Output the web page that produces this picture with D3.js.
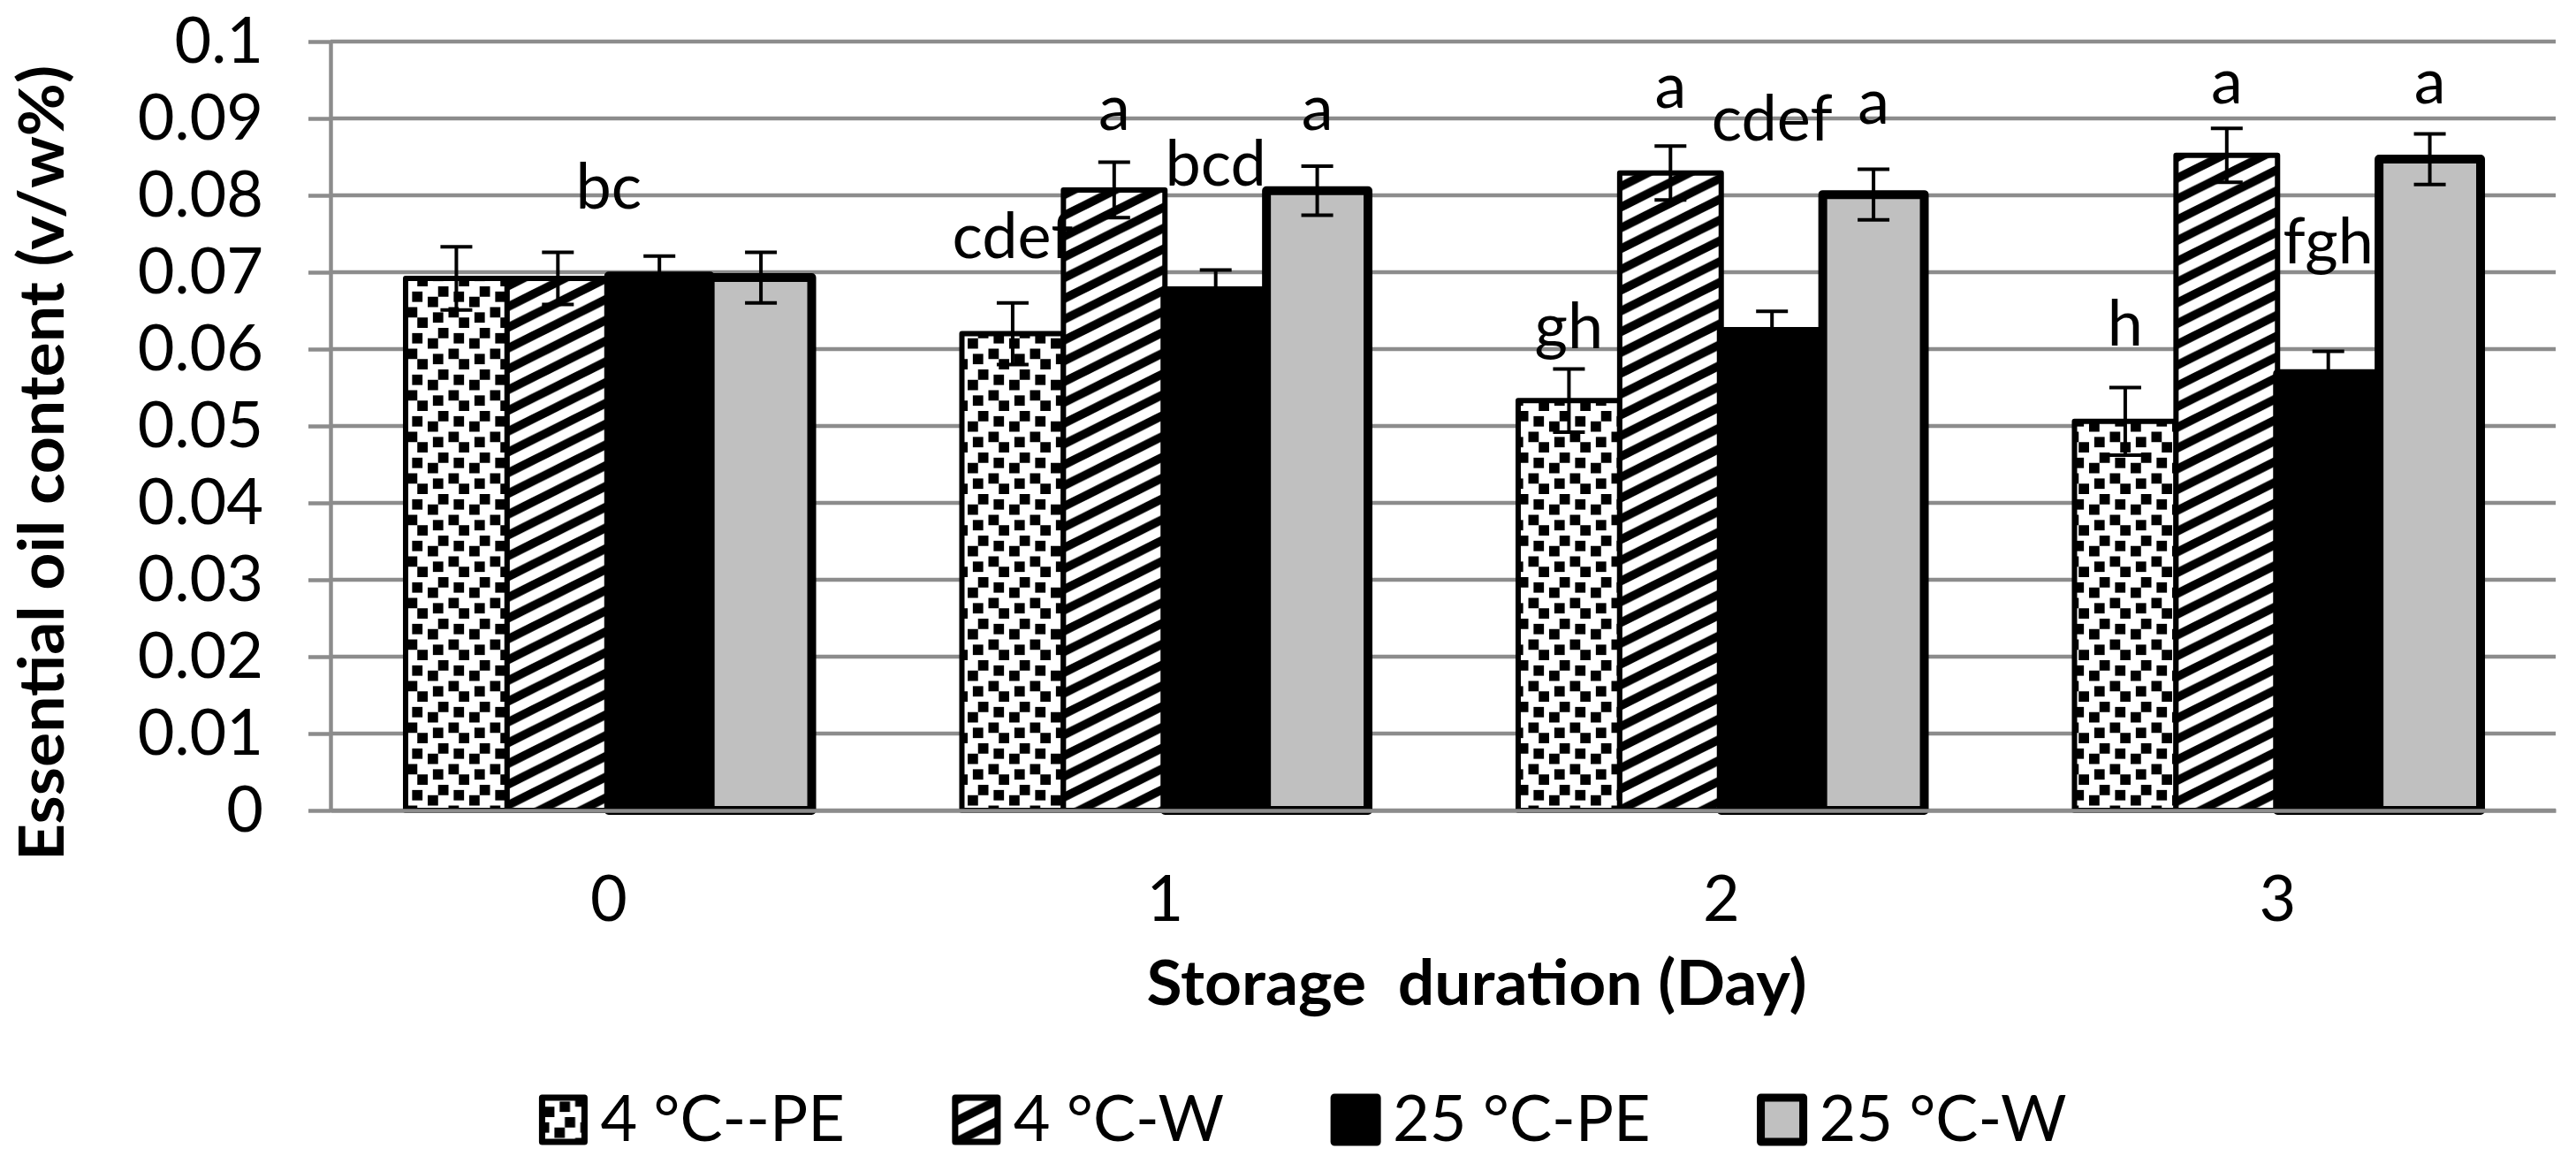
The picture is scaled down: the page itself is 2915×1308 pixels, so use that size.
<!DOCTYPE html>
<html>
<head>
<meta charset="utf-8">
<style>
    body { margin: 0; background: #fff; }
    text { font-family: Lato, "Open Sans", sans-serif; fill: #000; }
    .grid line { stroke: #8c8c8c; stroke-width: 4.5; }
    .axis path, .axis line { stroke: #8c8c8c; stroke-width: 4.5; }
    .axis text { font-size: 72px; font-family: Lato, sans-serif; }
    .title { font-size: 70px; font-weight: bold; white-space: pre; }
    .letter { font-size: 72px; }
    .legend text { font-size: 72px; white-space: pre; }
    .err { stroke: #000; stroke-width: 4; fill: none; }
</style>
</head>

<body>
    <svg id="chart" width="2915" height="1308"></svg>
</body>
<script src="https://d3js.org/d3.v7.min.js"></script>

<script>
    // data
    let days = ["0", "1", "2", "3"];
    let series = ["4 °C--PE", "4 °C-W", "25 °C-PE", "25 °C-W"];
    let pe4 = [0.0692, 0.0620, 0.0533, 0.0506];
    let w4 = [0.0692, 0.0807, 0.0829, 0.0852];
    let pe25 = [0.0695, 0.0676, 0.0623, 0.0568];
    let w25 = [0.0693, 0.0806, 0.0801, 0.0847];
    let pe4Err = [0.0041, 0.0040, 0.0041, 0.0044];
    let w4Err = [0.0034, 0.0036, 0.0035, 0.0035];
    let pe25Err = [0.0026, 0.0027, 0.0026, 0.0029];
    let w25Err = [0.0033, 0.0032, 0.0033, 0.0033];
    let yTicks = [0, 0.01, 0.02, 0.03, 0.04, 0.05, 0.06, 0.07, 0.08, 0.09, 0.1];
    // significance letters and the value level their baseline sits at
    let letters = [["bc"], ["cdef", "a", "bcd", "a"], ["gh", "a", "cdef", "a"], ["h", "a", "fgh", "a"]];
    let letterAt = [[0.0783], [0.0718, 0.0885, 0.0813, 0.0885], [0.0601, 0.0914, 0.0871, 0.0893], [0.0605, 0.0920, 0.0711, 0.0920]];

    let values = [pe4, w4, pe25, w25];
    let errors = [pe4Err, w4Err, pe25Err, w25Err];

    let svg = d3.select("#chart");
    let plotLeft = 374, plotRight = 2892, plotTop = 47, plotBottom = 917;

    // fill patterns (Excel style)
    let defs = svg.append("defs");
    let cell = 47 / 8;
    let confetti = defs.append("pattern")
        .attr("id", "confetti")
        .attr("patternUnits", "userSpaceOnUse")
        .attr("x", 14).attr("y", 42)
        .attr("width", 47).attr("height", 47);
    confetti.append("rect").attr("width", 47).attr("height", 47).attr("fill", "#fff");
    [[2, 0], [0, 2], [5, 1], [1, 5], [4, 4], [6, 6]].forEach(([cx, cy]) => {
        confetti.append("rect")
            .attr("x", cx * cell).attr("y", cy * cell)
            .attr("width", 2 * cell).attr("height", 2 * cell)
            .attr("fill", "#000");
    });

    // wide upward diagonal: one stripe per tile
    let hw = 47, hh = 23.5, ht = 5.5;
    let hatch = defs.append("pattern")
        .attr("id", "hatch")
        .attr("patternUnits", "userSpaceOnUse")
        .attr("width", hw).attr("height", hh);
    hatch.append("rect").attr("width", hw).attr("height", hh).attr("fill", "#fff");
    [-hh, 0, hh].forEach((off) => {
        hatch.append("polygon")
            .attr("points", [[0, hh - ht + off], [hw, -ht + off], [hw, ht + off], [0, hh + ht + off]].join(" "))
            .attr("fill", "#000");
    });

    let fills = ["url(#confetti)", "url(#hatch)", "#000", "#c0c0c0"];
    let strokeW = [6, 6, 10, 10];

    let x0 = d3.scaleBand()
        .domain(days)
        .range([plotLeft, plotRight])
        .paddingInner(0.27)
        .paddingOuter(0.135);
    let x1 = d3.scaleBand()
        .domain(series)
        .range([0, x0.bandwidth()]);
    let y = d3.scaleLinear()
        .domain([0, 0.1])
        .range([plotBottom, plotTop]);

    // gridlines
    svg.append("g").attr("class", "grid")
        .selectAll("line")
        .data(yTicks)
        .enter()
        .append("line")
        .attr("x1", plotLeft).attr("x2", plotRight)
        .attr("y1", (d) => y(d)).attr("y2", (d) => y(d));

    // y axis
    let yAxis = svg.append("g")
        .attr("class", "axis")
        .attr("transform", "translate(" + plotLeft + ",0)")
        .call(d3.axisLeft(y).tickValues(yTicks).tickFormat(d3.format(".2~f"))
            .tickSize(25).tickSizeOuter(0).tickPadding(51));
    yAxis.selectAll("text").attr("fill", "#000");

    // bars
    let rows = [];
    days.forEach((day, i) => {
        series.forEach((s, j) => {
            rows.push({day: day, s: s, j: j, v: values[j][i], e: errors[j][i]});
        });
    });

    svg.append("g")
        .selectAll("rect")
        .data(rows)
        .enter()
        .append("rect")
        .attr("x", (d) => x0(d.day) + x1(d.s))
        .attr("y", (d) => y(d.v))
        .attr("width", x1.bandwidth())
        .attr("height", (d) => y(0) - y(d.v))
        .attr("fill", (d) => fills[d.j])
        .attr("stroke", "#000")
        .attr("stroke-width", (d) => strokeW[d.j])
        .attr("stroke-linejoin", "round");

    // error bars
    let cap = 18;
    let eb = svg.append("g").attr("class", "err")
        .selectAll("g")
        .data(rows)
        .enter()
        .append("g")
        .attr("transform", (d) => "translate(" + (x0(d.day) + x1(d.s) + x1.bandwidth() / 2) + ",0)");
    eb.append("line")
        .attr("y1", (d) => y(d.v - d.e)).attr("y2", (d) => y(d.v + d.e));
    eb.append("line")
        .attr("x1", -cap).attr("x2", cap)
        .attr("y1", (d) => y(d.v + d.e)).attr("y2", (d) => y(d.v + d.e));
    eb.append("line")
        .attr("x1", -cap).attr("x2", cap)
        .attr("y1", (d) => y(d.v - d.e)).attr("y2", (d) => y(d.v - d.e));

    // x axis on top of bars
    let xAxis = svg.append("g")
        .attr("class", "axis")
        .attr("transform", "translate(0," + plotBottom + ")")
        .call(d3.axisBottom(x0).tickSize(0).tickSizeOuter(0));
    xAxis.selectAll("text").attr("y", 125).attr("dy", 0).attr("fill", "#000");

    // significance letters
    let lab = [];
    letters.forEach((grp, i) => {
        grp.forEach((t, j) => {
            let cx = grp.length === 1
                ? x0(days[i]) + x0.bandwidth() / 2
                : x0(days[i]) + x1(series[j]) + x1.bandwidth() / 2;
            lab.push({t: t, x: cx, v: letterAt[i][j]});
        });
    });
    svg.append("g")
        .selectAll("text")
        .data(lab)
        .enter()
        .append("text")
        .attr("class", "letter")
        .attr("text-anchor", "middle")
        .attr("x", (d) => d.x)
        .attr("y", (d) => y(d.v))
        .text((d) => d.t);

    // axis titles
    svg.append("text")
        .attr("class", "title")
        .attr("text-anchor", "middle")
        .attr("x", 1671).attr("y", 1137)
        .attr("textLength", 747).attr("lengthAdjust", "spacingAndGlyphs")
        .text("Storage  duration (Day)");
    svg.append("text")
        .attr("class", "title")
        .attr("text-anchor", "middle")
        .attr("transform", "translate(72,524) rotate(-90)")
        .attr("textLength", 900).attr("lengthAdjust", "spacingAndGlyphs")
        .text("Essential oil content (v/w%)");

    // legend
    let legend = svg.append("g").attr("class", "legend");
    let items = legend.selectAll("g")
        .data(series)
        .enter()
        .append("g");
    items.append("rect")
        .attr("y", 1242)
        .attr("width", 48).attr("height", 50)
        .attr("fill", (d, j) => fills[j])
        .attr("stroke", "#000")
        .attr("stroke-width", (d, j) => j < 2 ? 7 : 9)
        .attr("stroke-linejoin", "round");
    items.append("text")
        .attr("x", 66).attr("y", 1291)
        .text((d) => d);

    let widths = [];
    items.selectAll("text").each(function () { widths.push(this.getComputedTextLength()); });
    let gap = 125;
    let total = d3.sum(widths) + series.length * 66 + gap * (series.length - 1);
    let pos = 1476 - total / 2;
    items.attr("transform", (d, j) => {
        let t = "translate(" + pos + ",0)";
        pos += 66 + widths[j] + gap;
        return t;
    });
</script>
</html>
